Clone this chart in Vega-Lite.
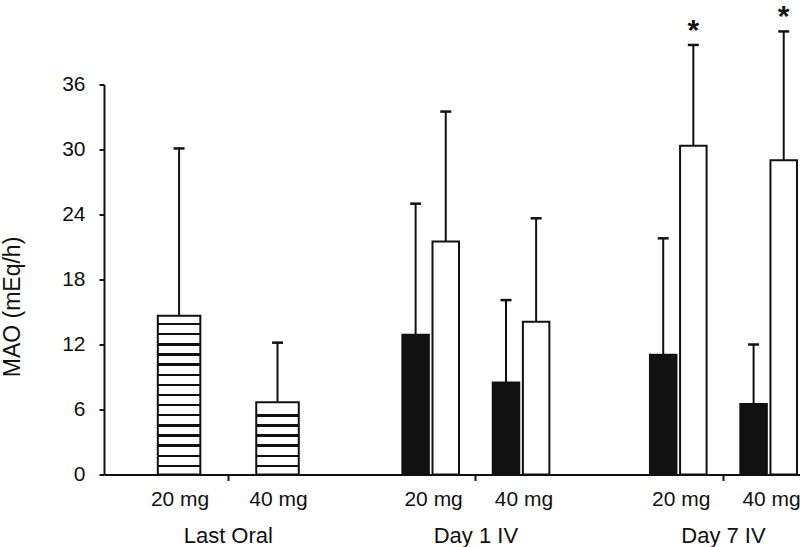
{
  "$schema": "https://vega.github.io/schema/vega-lite/v6.json",
  "width": 696,
  "height": 390,
  "autosize": {"type": "none"},
  "padding": {"left": 104, "top": 84.5, "right": 0, "bottom": 72.5},
  "background": "white",
  "config": {
    "view": {"stroke": null},
    "font": "Liberation Sans",
    "axis": {"grid": false, "domainColor": "#111", "tickColor": "#111", "labelColor": "#111", "titleColor": "#111", "labelFont": "Liberation Sans", "titleFont": "Liberation Sans", "titleFontWeight": "normal"}
  },
  "datasets": {
    "oral": [
      {"group": "Last Oral", "dose": "20 mg", "mean": 14.66, "upper": 30.1},
      {"group": "Last Oral", "dose": "40 mg", "mean": 6.66, "upper": 12.17}
    ],
    "iv": [
      {"group": "Day 1 IV", "dose": "20 mg", "series": "filled", "bar": "20 mg filled", "mean": 12.9, "upper": 25.0, "sig": ""},
      {"group": "Day 1 IV", "dose": "20 mg", "series": "open", "bar": "20 mg open", "mean": 21.5, "upper": 33.5, "sig": ""},
      {"group": "Day 1 IV", "dose": "40 mg", "series": "filled", "bar": "40 mg filled", "mean": 8.5, "upper": 16.1, "sig": ""},
      {"group": "Day 1 IV", "dose": "40 mg", "series": "open", "bar": "40 mg open", "mean": 14.1, "upper": 23.65, "sig": ""},
      {"group": "Day 7 IV", "dose": "20 mg", "series": "filled", "bar": "20 mg filled", "mean": 11.05, "upper": 21.8, "sig": ""},
      {"group": "Day 7 IV", "dose": "20 mg", "series": "open", "bar": "20 mg open", "mean": 30.35, "upper": 39.65, "sig": "*"},
      {"group": "Day 7 IV", "dose": "40 mg", "series": "filled", "bar": "40 mg filled", "mean": 6.5, "upper": 12.0, "sig": ""},
      {"group": "Day 7 IV", "dose": "40 mg", "series": "open", "bar": "40 mg open", "mean": 29.0, "upper": 40.9, "sig": "*"}
    ]
  },
  "resolve": {"scale": {"xOffset": "independent"}},
  "layer": [
    {
      "data": {"name": "oral"},
      "encoding": {
        "x": {
          "field": "group", "type": "nominal",
          "scale": {"domain": ["Last Oral", "Day 1 IV", "Day 7 IV"], "paddingInner": 0.394, "paddingOuter": 0.1026, "align": 0.97},
          "axis": {"title": null, "labelAngle": 0, "labelFontSize": 22, "labelBaseline": "alphabetic", "labelPadding": 61.5, "tickSize": 6, "tickWidth": 2, "domainWidth": 2}
        },
        "xOffset": {"field": "dose", "type": "nominal", "scale": {"domain": ["20 mg", "40 mg"], "paddingInner": 0.568, "paddingOuter": 0.046}}
      },
      "layer": [
        {
          "mark": {"type": "rule", "stroke": "#111", "strokeWidth": 2},
          "encoding": {
            "y": {"field": "mean", "type": "quantitative"},
            "y2": {"field": "upper"}
          }
        },
        {
          "mark": {"type": "tick", "color": "#111", "size": 11, "thickness": 2.5, "opacity": 1},
          "encoding": {"y": {"field": "upper", "type": "quantitative"}}
        },
        {
          "mark": {"type": "bar", "stroke": "#111", "strokeWidth": 2},
          "encoding": {
            "y": {
              "field": "mean", "type": "quantitative",
              "scale": {"domain": [0, 36], "nice": false, "zero": true},
              "axis": {"title": "MAO (mEq/h)", "values": [0, 6, 12, 18, 24, 30, 36], "labelFontSize": 21, "labelPadding": 14, "tickSize": 5, "tickWidth": 2, "domainWidth": 2, "titleFontSize": 23, "titleX": -85, "titleY": 222, "titleBaseline": "alphabetic", "titleAngle": -90, "titleAlign": "center"}
            },
            "fill": {
              "condition": {
                "test": "datum.dose === '20 mg'",
                "value": {"gradient": "linear", "x1": 0, "y1": 0, "x2": 0, "y2": 1, "stops": [
                  {"offset": 0, "color": "white"},
                  {"offset": 0.0459, "color": "white"}, {"offset": 0.0459, "color": "#111"}, {"offset": 0.0609, "color": "#111"}, {"offset": 0.0609, "color": "white"},
                  {"offset": 0.1096, "color": "white"}, {"offset": 0.1096, "color": "#111"}, {"offset": 0.1246, "color": "#111"}, {"offset": 0.1246, "color": "white"},
                  {"offset": 0.1733, "color": "white"}, {"offset": 0.1733, "color": "#111"}, {"offset": 0.1883, "color": "#111"}, {"offset": 0.1883, "color": "white"},
                  {"offset": 0.2370, "color": "white"}, {"offset": 0.2370, "color": "#111"}, {"offset": 0.2520, "color": "#111"}, {"offset": 0.2520, "color": "white"},
                  {"offset": 0.3007, "color": "white"}, {"offset": 0.3007, "color": "#111"}, {"offset": 0.3157, "color": "#111"}, {"offset": 0.3157, "color": "white"},
                  {"offset": 0.3644, "color": "white"}, {"offset": 0.3644, "color": "#111"}, {"offset": 0.3794, "color": "#111"}, {"offset": 0.3794, "color": "white"},
                  {"offset": 0.4282, "color": "white"}, {"offset": 0.4282, "color": "#111"}, {"offset": 0.4432, "color": "#111"}, {"offset": 0.4432, "color": "white"},
                  {"offset": 0.4919, "color": "white"}, {"offset": 0.4919, "color": "#111"}, {"offset": 0.5069, "color": "#111"}, {"offset": 0.5069, "color": "white"},
                  {"offset": 0.5556, "color": "white"}, {"offset": 0.5556, "color": "#111"}, {"offset": 0.5706, "color": "#111"}, {"offset": 0.5706, "color": "white"},
                  {"offset": 0.6193, "color": "white"}, {"offset": 0.6193, "color": "#111"}, {"offset": 0.6343, "color": "#111"}, {"offset": 0.6343, "color": "white"},
                  {"offset": 0.6830, "color": "white"}, {"offset": 0.6830, "color": "#111"}, {"offset": 0.6980, "color": "#111"}, {"offset": 0.6980, "color": "white"},
                  {"offset": 0.7467, "color": "white"}, {"offset": 0.7467, "color": "#111"}, {"offset": 0.7617, "color": "#111"}, {"offset": 0.7617, "color": "white"},
                  {"offset": 0.8105, "color": "white"}, {"offset": 0.8105, "color": "#111"}, {"offset": 0.8255, "color": "#111"}, {"offset": 0.8255, "color": "white"},
                  {"offset": 0.8742, "color": "white"}, {"offset": 0.8742, "color": "#111"}, {"offset": 0.8892, "color": "#111"}, {"offset": 0.8892, "color": "white"},
                  {"offset": 0.9379, "color": "white"}, {"offset": 0.9379, "color": "#111"}, {"offset": 0.9529, "color": "#111"}, {"offset": 0.9529, "color": "white"},
                  {"offset": 1, "color": "white"}
                ]}
              },
              "value": {"gradient": "linear", "x1": 0, "y1": 0, "x2": 0, "y2": 1, "stops": [
                {"offset": 0, "color": "white"},
                {"offset": 0.1646, "color": "white"}, {"offset": 0.1646, "color": "#111"}, {"offset": 0.1976, "color": "#111"}, {"offset": 0.1976, "color": "white"},
                {"offset": 0.3044, "color": "white"}, {"offset": 0.3044, "color": "#111"}, {"offset": 0.3374, "color": "#111"}, {"offset": 0.3374, "color": "white"},
                {"offset": 0.4443, "color": "white"}, {"offset": 0.4443, "color": "#111"}, {"offset": 0.4773, "color": "#111"}, {"offset": 0.4773, "color": "white"},
                {"offset": 0.5841, "color": "white"}, {"offset": 0.5841, "color": "#111"}, {"offset": 0.6171, "color": "#111"}, {"offset": 0.6171, "color": "white"},
                {"offset": 0.7239, "color": "white"}, {"offset": 0.7239, "color": "#111"}, {"offset": 0.7569, "color": "#111"}, {"offset": 0.7569, "color": "white"},
                {"offset": 0.8637, "color": "white"}, {"offset": 0.8637, "color": "#111"}, {"offset": 0.8967, "color": "#111"}, {"offset": 0.8967, "color": "white"},
                {"offset": 1, "color": "white"}
              ]}
            }
          }
        },
        {
          "mark": {"type": "text", "baseline": "alphabetic", "dy": 31.5, "fontSize": 21, "color": "#111", "dx": 1},
          "encoding": {
            "y": {"datum": 0, "type": "quantitative"},
            "text": {"field": "dose"}
          }
        }
      ]
    },
    {
      "data": {"name": "iv"},
      "encoding": {
        "x": {
          "field": "group", "type": "nominal",
          "scale": {"domain": ["Last Oral", "Day 1 IV", "Day 7 IV"], "paddingInner": 0.394, "paddingOuter": 0.1026, "align": 0.97}
        },
        "xOffset": {"field": "bar", "type": "nominal", "scale": {"domain": ["20 mg filled", "20 mg open", "gap", "40 mg filled", "40 mg open"], "paddingInner": 0.12, "paddingOuter": 0.05}}
      },
      "layer": [
        {
          "mark": {"type": "rule", "stroke": "#111", "strokeWidth": 2},
          "encoding": {
            "y": {"field": "mean", "type": "quantitative"},
            "y2": {"field": "upper"}
          }
        },
        {
          "mark": {"type": "tick", "color": "#111", "size": 11, "thickness": 2.5, "opacity": 1},
          "encoding": {"y": {"field": "upper", "type": "quantitative"}}
        },
        {
          "mark": {"type": "bar", "stroke": "#111", "strokeWidth": 2},
          "encoding": {
            "y": {"field": "mean", "type": "quantitative"},
            "fill": {"field": "series", "type": "nominal", "scale": {"domain": ["filled", "open"], "range": ["#111", "white"]}, "legend": null}
          }
        },
        {
          "mark": {"type": "text", "baseline": "alphabetic", "dy": -5, "fontSize": 30, "fontWeight": "bold", "color": "#111"},
          "encoding": {
            "y": {"field": "upper", "type": "quantitative"},
            "text": {"field": "sig"}
          }
        },
        {
          "transform": [{"filter": "datum.series === 'filled'"}],
          "mark": {"type": "text", "baseline": "alphabetic", "dy": 31.5, "dx": 18, "fontSize": 21, "color": "#111"},
          "encoding": {
            "y": {"datum": 0, "type": "quantitative"},
            "text": {"field": "dose"}
          }
        }
      ]
    }
  ]
}
